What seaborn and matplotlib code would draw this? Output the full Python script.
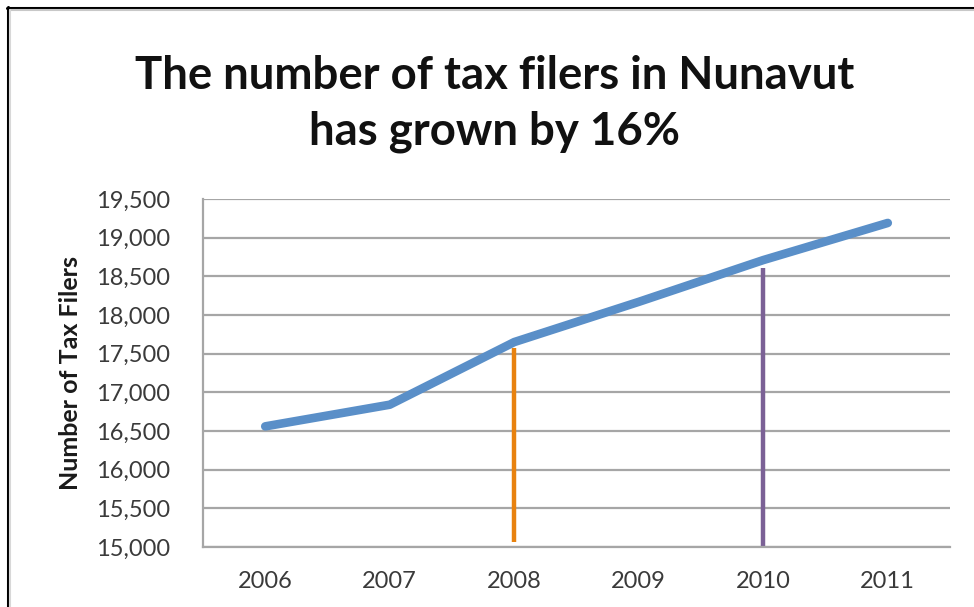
import matplotlib
matplotlib.use("Agg")
import matplotlib.pyplot as plt
from matplotlib.lines import Line2D
import seaborn as sns
import pandas as pd

years = ["2006", "2007", "2008", "2009", "2010", "2011"]
filers = [16560, 16840, 17650, 18170, 18710, 19190]

# reference markers: (year, bottom, top, colour)
marker_years = ["2008", "2010"]
marker_bottoms = [15060, 15000]
marker_tops = [17570, 18610]
marker_colors = ["#e8820f", "#7b6196"]

y_ticks = list(range(15000, 19501, 500))

title = "The number of tax filers in Nunavut\nhas grown by 16%"
y_label = "Number of Tax Filers"

sns.set_theme(style="white")
plt.rcParams["font.family"] = ["Lato", "DejaVu Sans"]

fig = plt.figure(figsize=(9.74, 6.07), dpi=100)
ax = fig.add_axes([0.2084, 0.0988, 0.7670, 0.5734])

df = pd.DataFrame({"year": years, "filers": filers})

for yt in y_ticks:
    ax.axhline(yt, color="#a6a6a6", lw=1.6, zorder=0)

for yr, b, t, c in zip(marker_years, marker_bottoms, marker_tops, marker_colors):
    ax.vlines(years.index(yr), b, t, color=c, lw=3.2, zorder=2)

sns.lineplot(data=df, x="year", y="filers", ax=ax, color="#5a8fc8",
             lw=6.2, solid_capstyle="round", zorder=3, sort=False)

ax.set_xlim(-0.5, len(years) - 0.5)
ax.set_ylim(15000, 19500)
ax.set_yticks(y_ticks)
ax.set_yticklabels([f"{v:,}" for v in y_ticks])
ax.set_xticks(range(len(years)))
ax.set_xticklabels(years)
ax.tick_params(axis="both", length=0, labelsize=17, labelcolor="#3a3a3a")
ax.tick_params(axis="x", pad=17)
ax.tick_params(axis="y", pad=24)
for s in ["top", "right"]:
    ax.spines[s].set_visible(False)
for s in ["left", "bottom"]:
    ax.spines[s].set_color("#a6a6a6")
    ax.spines[s].set_linewidth(1.6)

ax.set_xlabel("")
ax.set_ylabel(y_label, fontsize=18, fontweight="bold", color="#1a1a1a", labelpad=10)

fig.text(0.508, 0.829, title, ha="center", va="center", fontsize=32.8,
         fontweight="bold", color="#111111", linespacing=1.4)

# frame edge along the top and left
fig.add_artist(Line2D([0.0072, 1.0], [0.9868, 0.9868], color="#000000", lw=2.2,
                      transform=fig.transFigure))
fig.add_artist(Line2D([0.0082, 0.0082], [0.0, 0.9878], color="#000000", lw=2.2,
                      transform=fig.transFigure))
fig.add_artist(Line2D([0.0105, 1.0], [0.9830, 0.9830], color="#c8c8c8", lw=1.5,
                      transform=fig.transFigure))
fig.add_artist(Line2D([0.0105, 0.0105], [0.0, 0.9830], color="#d8d8d8", lw=1.5,
                      transform=fig.transFigure))

fig.savefig("out.png", dpi=100, facecolor="white")
